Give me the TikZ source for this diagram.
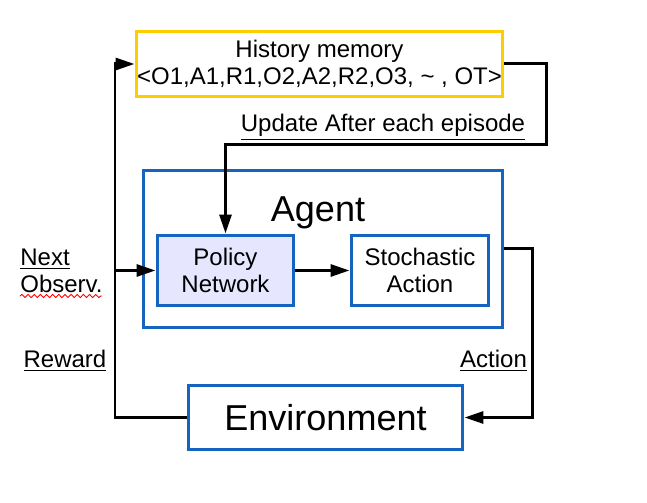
\documentclass[tikz,border=0pt]{standalone}
\usepackage{fontspec}
\setmainfont{Liberation Sans}
\usetikzlibrary{arrows.meta,decorations.pathmorphing}

\definecolor{memyellow}{RGB}{255,204,0}
\definecolor{boxblue}{RGB}{21,101,192}
\definecolor{netfill}{RGB}{230,230,255}

\tikzset{
  box/.style={draw=boxblue, line width=0.06cm, inner sep=0pt, align=center},
  conn/.style={line width=0.06cm},
  arr/.style={conn, -{Triangle[length=0.38cm,width=0.24cm]}},
  lbl/.style={inner sep=0pt}
}

\begin{document}
\begin{tikzpicture}[x=0.02cm, y=-0.02cm, font=\fontsize{13.66pt}{15.4pt}\selectfont]

\useasboundingbox (0,0) rectangle (647,503);

% Draw the boxes
\node[box, draw=memyellow, minimum width=7.34cm, minimum height=1.32cm] (hist) at (319.5,64)
  {History memory\\<O1,A1,R1,O2,A2,R2,O3, \textasciitilde{} , OT>};
\node[box, minimum width=7.2cm, minimum height=3.16cm] (agent) at (323,249) {};
\node[lbl, anchor=base, font=\fontsize{20.5pt}{24pt}\selectfont] (agentlbl) at (318,222) {Agent};
\node[box, fill=netfill, minimum width=2.74cm, minimum height=1.42cm] (policy) at (225.5,270.5) {Policy\\Network};
\node[box, minimum width=2.76cm, minimum height=1.42cm] (stoch) at (420,270.5) {Stochastic\\Action};
\node[box, minimum width=5.5cm, minimum height=1.3cm, font=\fontsize{20.5pt}{24pt}\selectfont] (env) at (325.5,417.5) {Environment};

% Corner points of the loops
\coordinate (updc) at (546,145);
\coordinate (actc) at (532,417.5);
\coordinate (rewc) at (115,417.5);

% Draw the connectors
\draw[arr] (hist.east) -| (updc) -| (policy.north);
\draw[arr] (policy) -- (stoch);
\draw[arr] (agent.east) -| (actc) -- (env.east);
\draw[arr] (env.west) -- (rewc) |- (hist.west);
\draw[arr] (rewc |- policy.west) -- (policy.west);

% Labels
\node[lbl, anchor=base] (updlbl) at (383,132) {\underline{Update After each episode}};
\node[lbl, anchor=base] (actlbl) at (493.5,368) {\underline{Action}};
\node[lbl, anchor=base] (rewlbl) at (65,368) {\underline{Reward}};
\node[lbl, anchor=west, align=left] (obslbl) at (20,271) {\underline{Next}\\Observ.};
\draw[red, line width=0.5pt, decorate, decoration={snake, amplitude=0.9pt, segment length=3.5pt}]
  (20,296) -- (102,296);

\end{tikzpicture}
\end{document}
